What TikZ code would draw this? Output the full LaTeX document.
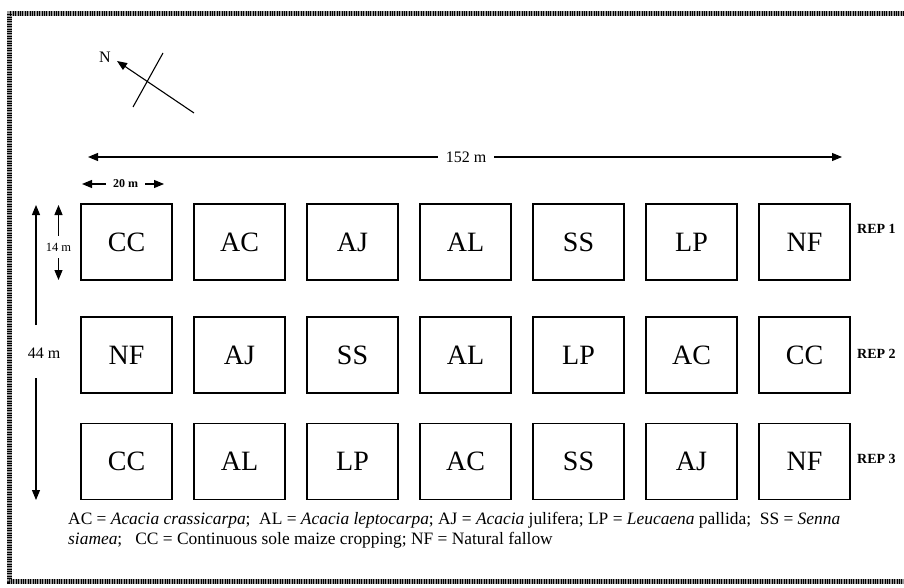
\documentclass[tikz,border=0pt]{standalone}
\usepackage{fontspec}
\setmainfont{Liberation Serif}
\usetikzlibrary{arrows.meta}

\tikzset{
  plotbox/.style={draw, line width=1.1pt, minimum width=91pt, minimum height=76pt,
    inner sep=0pt, font=\fontsize{28}{30}\selectfont},
  replabel/.style={anchor=west, inner sep=0pt, font=\bfseries\fontsize{14}{16}\selectfont},
  dimline/.style={line width=1.1pt, -{Triangle[length=10pt,width=8pt]}},
  dimtext/.style={inner sep=0pt, font=\fontsize{16}{18}\selectfont},
  smalltext/.style={inner sep=0pt, font=\fontsize{12.5}{14}\selectfont},
  frameband/.style={line width=5pt, draw=black!40},
  framegrain/.style={line width=5pt, draw=black, dash pattern=on 0.9pt off 1.5pt},
  legendtext/.style={anchor=base west, inner sep=0pt, align=left,
    font=\fontsize{17.4}{19.5}\selectfont},
}

\begin{document}
\begin{tikzpicture}[x=1pt, y=-1pt]
  \useasboundingbox (0,0) rectangle (904,588);
  \fill[white] (0,0) rectangle (904,588);

  % grainy page frame (open on the right)
  \draw[frameband] (904,14) -- (9,14) -- (9,581) -- (904,581);
  \draw[framegrain] (904,14) -- (9,14) -- (9,581) -- (904,581);

  % north arrow
  \coordinate (ntail) at (194,113);
  \coordinate (nhead) at (117,61);
  \coordinate (crossA) at (163,53);
  \coordinate (crossB) at (133,107);
  \draw[dimline] (ntail) -- (nhead);
  \draw[line width=1.1pt] (crossA) -- (crossB);
  \node[dimtext] (north) at (105,57) {N};

  % plots: three replicates of seven treatments
  \foreach \lab [count=\i] in {CC,AC,AJ,AL,SS,LP,NF}
    \node[plotbox] (p1\i) at ({126.5+113*(\i-1)},242) {\lab};
  \foreach \lab [count=\i] in {NF,AJ,SS,AL,LP,AC,CC}
    \node[plotbox] (p2\i) at ({126.5+113*(\i-1)},355) {\lab};
  \foreach \lab [count=\i] in {CC,AL,LP,AC,SS,AJ,NF}
    \node[plotbox] (p3\i) at ({126.5+113*(\i-1)},461.5) {\lab};

  \node[replabel] (rep1) at (857,229) {REP 1};
  \node[replabel] (rep2) at (857,354) {REP 2};
  \node[replabel] (rep3) at (857,459) {REP 3};

  % overall length
  \coordinate (l152) at (88,157);
  \coordinate (r152) at (842,157);
  \node[dimtext, inner xsep=8pt] (t152) at (466,157) {152 m};
  \draw[dimline] (t152) -- (l152);
  \draw[dimline] (t152) -- (r152);

  % plot width
  \coordinate (l20) at (82,184);
  \coordinate (r20) at (164,184);
  \node[smalltext, font=\bfseries\fontsize{12}{14}\selectfont, inner xsep=7pt] (t20) at (125.5,184) {20 m};
  \draw[dimline] (t20) -- (l20);
  \draw[dimline] (t20) -- (r20);

  % plot depth
  \coordinate (u14) at (58.5,205);
  \coordinate (d14) at (58.5,280);
  \node[smalltext, inner ysep=7pt] (t14) at (58.5,247) {14 m};
  \draw[dimline] (t14) -- (u14);
  \draw[dimline] (t14) -- (d14);

  % overall depth
  \coordinate (u44) at (36,205);
  \coordinate (d44) at (36,500);
  \coordinate (a44) at (36,325);
  \coordinate (b44) at (36,378);
  \node[dimtext] (t44) at (44,353) {44 m};
  \draw[dimline] (a44) -- (u44);
  \draw[dimline] (b44) -- (d44);

  % key to treatments
  \node[legendtext] (key) at (68,544) {AC = \textit{Acacia crassicarpa};\ \ AL = \textit{Acacia leptocarpa}; AJ = \textit{Acacia} julifera; LP = \textit{Leucaena} pallida;\ \ SS = \textit{Senna}\\
    \textit{siamea};\ \ \ CC = Continuous sole maize cropping; NF = Natural fallow};
\end{tikzpicture}
\end{document}
